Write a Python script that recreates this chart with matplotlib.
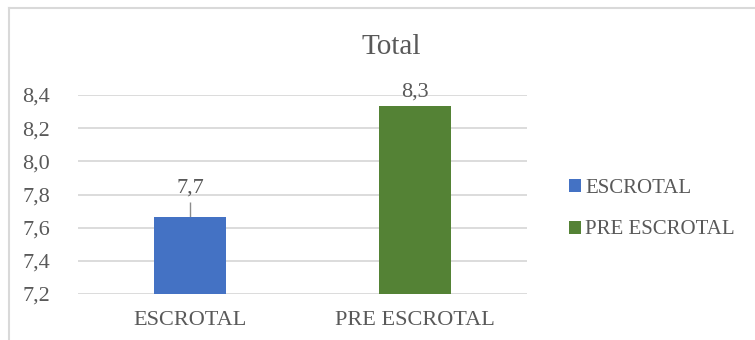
import matplotlib.pyplot as plt
from matplotlib.lines import Line2D
from matplotlib.patches import Patch

# datos del gráfico
categorias = ['ESCROTAL', 'PRE ESCROTAL']
valores = [7.667, 8.333]
errores = [0.085, 0.0]
colores = ['#4472c4', '#548235']
ticks_y = [7.2, 7.4, 7.6, 7.8, 8.0, 8.2, 8.4]

plt.rcParams['font.family'] = ['Liberation Serif', 'DejaVu Serif']
gris = '#595959'

fig = plt.figure(figsize=(7.55, 3.40), dpi=100)
ax = fig.add_axes([78 / 755, 46 / 340, 449 / 755, 199 / 340])

x = range(len(categorias))
ax.bar(x, valores, width=0.32, color=colores, zorder=3)
# barra de error solo hacia arriba
ax.errorbar([0], [valores[0]], yerr=[[0], [errores[0]]], fmt='none',
            ecolor='#8c8c8c', elinewidth=1, capsize=0, zorder=2)

for i, v in enumerate(valores):
    top = v + errores[i]
    ax.text(i, top + 0.03, f'{v:.1f}'.replace('.', ','), ha='center', va='bottom',
            fontsize=16, color=gris)

ax.set_xlim(-0.5, 1.5)
ax.set_ylim(7.2, 8.4)
ax.set_yticks(ticks_y)
ax.set_yticklabels([f'{t:.1f}'.replace('.', ',') for t in ticks_y])
ax.set_xticks(list(x))
ax.set_xticklabels(categorias)
ax.tick_params(axis='both', length=0, labelsize=16, labelcolor=gris)
ax.tick_params(axis='y', pad=20)
ax.tick_params(axis='x', pad=12)
ax.grid(axis='y', color='#d9d9d9', linewidth=1.3, zorder=0)
ax.set_axisbelow(True)
for s in ax.spines.values():
    s.set_visible(False)

fig.text(391 / 755, 1 - 47 / 340, 'Total', ha='center', va='center',
         fontsize=21, color=gris)

# leyenda
handles = [Patch(facecolor=c, edgecolor='none') for c in colores]
leg = fig.legend(handles, categorias, loc='center left',
                 bbox_to_anchor=(550 / 755, 1 - 209 / 340), frameon=False,
                 fontsize=15, labelcolor=gris, handlelength=0.6, handleheight=0.6,
                 handletextpad=0.2, labelspacing=1.1)

# marco del área del gráfico
fig.add_artist(Line2D([9 / 755, 9 / 755], [0, 1 - 8 / 340], color='#d9d9d9',
                      linewidth=1.5, transform=fig.transFigure))
fig.add_artist(Line2D([9 / 755, 1], [1 - 8 / 340, 1 - 8 / 340], color='#d9d9d9',
                      linewidth=1.5, transform=fig.transFigure))

fig.savefig('out.png', dpi=100)
